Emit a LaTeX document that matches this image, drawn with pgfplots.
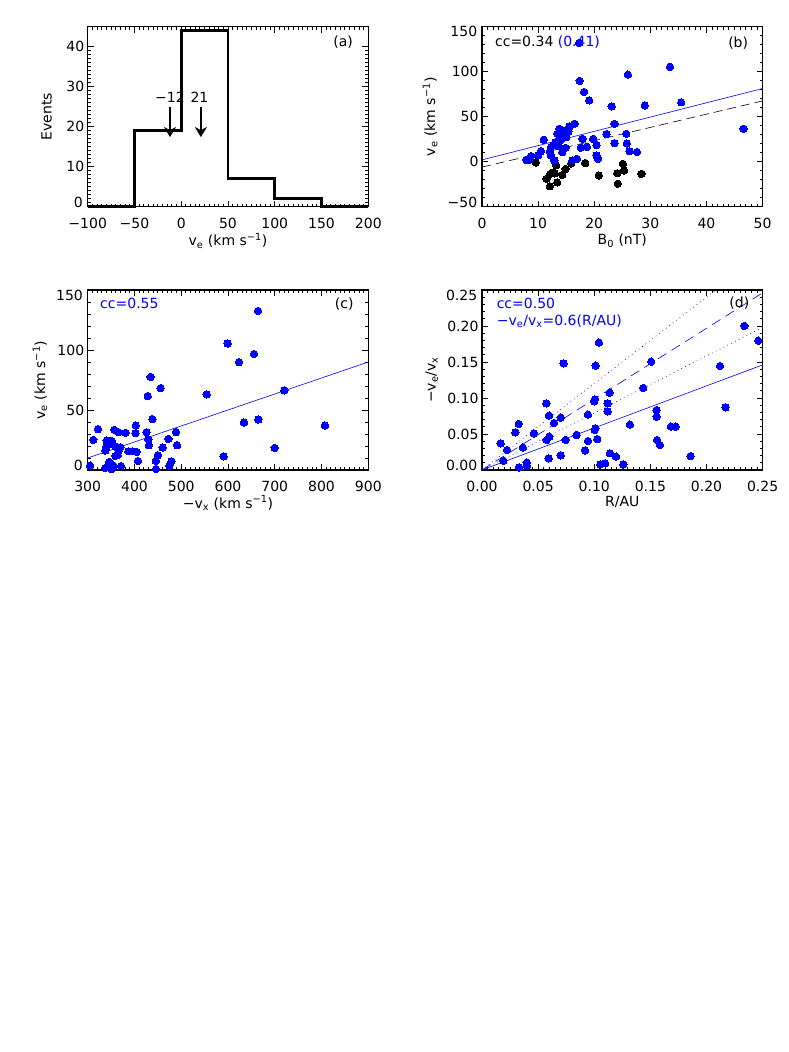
\documentclass[border=0pt]{standalone}
\usepackage{fontspec}
\setmainfont{DejaVu Sans}
\usepackage{pgfplots}
\pgfplotsset{compat=1.18}
\usetikzlibrary{arrows.meta}
\definecolor{pblue}{RGB}{0,0,255}
\newcommand{\fs}{\fontsize{14}{16}\selectfont}
\pgfplotsset{
  idl/.style={
    scale only axis, width=280.6pt, height=180pt,
    anchor=south west, clip=false,
    /pgf/number format/assume math mode=true,
    axis line style={line width=1.1pt},
    tick style={line width=0.9pt, black},
    major tick length=6pt, minor tick length=3pt,
    tick align=inside,
    tick label style={font=\fs},
    label style={font=\fs},
    xticklabel style={yshift=-7.5pt},
  },
  bdot/.style={only marks, mark=*, mark size=3.7pt, color=pblue, mark options={fill=pblue, draw=pblue, line width=0pt}},
  kdot/.style={only marks, mark=*, mark size=3.7pt, color=black, mark options={fill=black, draw=black, line width=0pt}},
}
\begin{document}
\begin{tikzpicture}
\path[use as bounding box] (0,0) rectangle (789pt,1052pt);
% ---------------- (a)
\begin{axis}[idl, at={(87.7pt,845.3pt)},
  xmin=-100, xmax=200, ymin=0, ymax=45,
  xtick={-100,-50,0,50,100,150,200},
  xticklabels={−100,−50,0,50,100,150,200},
  ytick={0,10,20,30,40}, yticklabels={,10,20,30,40},
  minor x tick num=9, minor y tick num=9,
  xlabel={v\textsubscript{e} (km s\textsuperscript{−1})},
  ylabel={Events},
  xlabel style={at={(axis description cs:0.5,-0.19)}, anchor=center},
  ylabel style={at={(axis description cs:-0.146,0.5)}, anchor=center},
]
\addplot[const plot, black, line width=2.6pt] coordinates {(-100,0) (-50,19) (0,44) (50,7) (100,2) (150,0) (200,0)};
\draw[line width=1.9pt, -{Stealth[length=10pt,width=12pt,inset=3pt]}] (axis cs:-12,25) -- (axis cs:-12,17.4);
\draw[line width=1.9pt, -{Stealth[length=10pt,width=12pt,inset=3pt]}] (axis cs:21,25) -- (axis cs:21,17.4);
\node[font=\fs, inner sep=0pt] at (axis cs:-12,27.4) {−12};
\node[font=\fs, inner sep=0pt] at (axis cs:19.5,27.4) {21};
\node[font=\fs, inner sep=0pt] at (rel axis cs:0.91,0.917) {(a)};
\node[font=\fs, anchor=east, inner sep=0pt, xshift=-4.6pt, yshift=4.5pt] at (rel axis cs:0,0) {0};
\end{axis}
% ---------------- (b)
\begin{axis}[idl, at={(482pt,845.3pt)},
  xmin=0, xmax=50, ymin=-50, ymax=150,
  xtick={0,10,20,30,40,50},
  xticklabels={0,10,20,30,40,50},
  ytick={-50,0,50,100,150}, yticklabels={,0,50,100,},
  minor x tick num=9, minor y tick num=4,
  xlabel={B\textsubscript{0} (nT)},
  ylabel={v\textsubscript{e} (km s\textsuperscript{−1})},
  xlabel style={at={(axis description cs:0.5,-0.19)}, anchor=center},
  ylabel style={at={(axis description cs:-0.185,0.5)}, anchor=center},
]
\addplot[pblue, line width=0.6pt] coordinates {(0,2) (50,81.3)};
\addplot[black, line width=0.6pt, dash pattern=on 9pt off 5pt] coordinates {(0,-6) (50,67.5)};
\addplot[kdot] coordinates {
(9.6,-1) (11.5,-19) (12.2,-13.6) (12.7,-12) (13.2,-3.9) (12.1,-27.3) (13.4,-22.9)
(14.3,-14.7) (14.9,-8) (15.9,-2) (18.4,-1.5) (20.8,-15.4) (24.1,-12.8) (24.2,-24.5)
(25.1,-2.4) (25.3,-9.8) (28.4,-13.6) (12.9,-13)
};
\addplot[bdot] coordinates {
(17.3,132) (17.4,89.8) (18.2,77.5) (19.1,68.2) (26.0,96.7) (33.5,105.4) (35.5,66)
(46.6,36.6) (29.0,62.5) (23.1,61.5) (23.6,42) (22.2,30.7) (19.8,25.3) (20.4,18.5)
(20.4,6.9) (20.7,3.2) (23.6,20.6) (25.7,31) (25.8,20.2) (26.3,11.7) (27.6,10.8)
(17.9,25.5) (17.6,15.5) (18.7,16.5) (16.5,42.2) (15.6,39.2) (14.9,34.8) (13.8,36.6)
(13.4,31) (14.5,33) (15.4,33.5) (15.0,27.3) (14.2,25.5) (13.1,21.8) (13.9,23.6)
(12.6,18) (12.3,16.2) (12.1,11.4) (11.0,24.4) (10.5,11.7) (10.0,7.3) (8.7,6.1)
(8.3,2) (7.9,2) (12.3,6.9) (12.9,1.3) (16.9,3.2) (16.1,1.5) (14.3,10.6) (14.9,15.4)
(13.6,18)
};
\node[font=\fs, anchor=west, inner sep=0pt] at (rel axis cs:0.046,0.917) {cc=0.34 \textcolor{pblue}{(0.41)}};
\node[font=\fs, inner sep=0pt] at (rel axis cs:0.913,0.911) {(b)};
\node[font=\fs, anchor=east, inner sep=0pt, xshift=-4.6pt, yshift=4.5pt] at (rel axis cs:0,0) {−50};
\node[font=\fs, anchor=east, inner sep=0pt, xshift=-4.6pt, yshift=-5pt] at (rel axis cs:0,1) {150};
\end{axis}
% ---------------- (c)
\begin{axis}[idl, at={(87.7pt,582pt)},
  xmin=300, xmax=900, ymin=0, ymax=150,
  xtick={300,400,500,600,700,800,900},
  xticklabels={300,400,500,600,700,800,900},
  ytick={0,50,100,150}, yticklabels={,50,100,},
  minor x tick num=9, minor y tick num=4,
  xlabel={−v\textsubscript{x} (km s\textsuperscript{−1})},
  ylabel={v\textsubscript{e} (km s\textsuperscript{−1})},
  xlabel style={at={(axis description cs:0.5,-0.183)}, anchor=center},
  ylabel style={at={(axis description cs:-0.17,0.5)}, anchor=center},
]
\addplot[pblue, line width=0.6pt] coordinates {(300,10) (900,90)};
\addplot[bdot] coordinates {
(664,132.5) (599,105.4) (623.5,89.8) (655.6,96.7) (554.4,63) (720.4,66.4) (634.2,39.6)
(664.9,42.1) (807.4,37.1) (699.8,18.4) (590.7,11.4) (434.7,77.5) (428.3,61.6) (456,68.3)
(438.2,42.4) (322,34) (312,25.1) (305,3.6) (357,33.5) (365.6,31.5) (381,31) (403,37.1)
(402,30.7) (426,31.5) (429.7,25.6) (431,20.6) (488.8,31.5) (491,20.6) (472.5,25.9)
(460.3,18.7) (450,12.3) (445.5,7.5) (446,0.8) (478.8,7.2) (474.5,3.6) (387,15.6)
(396.2,15.6) (404.8,15) (407.6,7.5) (369.8,19) (366,16.2) (364,12.3) (359,11.7)
(347.7,21.7) (351.3,24.3) (358.4,19.8) (346,6.7) (354.9,3.6) (337.8,1.7) (350.6,0.8)
(371.3,3.3) (339,18.7) (337.8,16.2) (340.6,24.5)
};
\node[font=\fs, anchor=west, inner sep=0pt, text=pblue] at (rel axis cs:0.044,0.926) {cc=0.55};
\node[font=\fs, inner sep=0pt] at (rel axis cs:0.914,0.922) {(c)};
\node[font=\fs, anchor=east, inner sep=0pt, xshift=-4.6pt, yshift=4.5pt] at (rel axis cs:0,0) {0};
\node[font=\fs, anchor=east, inner sep=0pt, xshift=-4.6pt, yshift=-5pt] at (rel axis cs:0,1) {150};
\end{axis}
% ---------------- (d)
\begin{axis}[idl, at={(482pt,582pt)},
  xmin=0, xmax=0.25, ymin=0, ymax=0.25,
  xtick={0,0.05,0.10,0.15,0.20,0.25},
  xticklabels={0.00,0.05,0.10,0.15,0.20,0.25},
  ytick={0,0.05,0.10,0.15,0.20,0.25},
  yticklabels={,0.05,0.10,0.15,0.20,},
  minor x tick num=9, minor y tick num=4,
  xlabel={R/AU},
  ylabel={−v\textsubscript{e}/v\textsubscript{x}},
  xlabel style={at={(axis description cs:0.5,-0.178)}, anchor=center},
  ylabel style={at={(axis description cs:-0.179,0.5)}, anchor=center},
]
\addplot[pblue, line width=0.6pt] coordinates {(0,0) (0.25,0.146)};
\addplot[pblue, line width=0.6pt, dash pattern=on 10pt off 6pt] coordinates {(0,0) (0.25,0.246)};
\addplot[pblue, line width=0.6pt, dash pattern=on 0.8pt off 3.5pt] coordinates {(0,0) (0.25,0.198)};
\addplot[pblue, line width=0.6pt, dash pattern=on 0.8pt off 3.5pt] coordinates {(0,0) (0.2083,0.25)};
\addplot[bdot] coordinates {
(0.2337,0.2000) (0.2461,0.1796) (0.212,0.1445) (0.217,0.087) (0.1042,0.1769)
(0.1012,0.1449) (0.0727,0.1481) (0.1508,0.1505) (0.1437,0.1139) (0.1137,0.1074)
(0.1119,0.0926) (0.1119,0.0815) (0.0998,0.0954) (0.1006,0.0981) (0.1004,0.0556)
(0.1010,0.0580) (0.1027,0.043) (0.1318,0.063) (0.1556,0.0833) (0.1556,0.074)
(0.156,0.0417) (0.1585,0.0347) (0.1683,0.0602) (0.1725,0.0602) (0.1859,0.0194)
(0.0573,0.0926) (0.0597,0.0755) (0.0641,0.0653) (0.0701,0.0727) (0.0576,0.0417)
(0.06,0.0463) (0.0594,0.0162) (0.0701,0.0204) (0.0745,0.0417) (0.0843,0.0486)
(0.0918,0.0273) (0.0944,0.0403) (0.0944,0.0769) (0.1054,0.0079) (0.1096,0.0093)
(0.114,0.0232) (0.1194,0.0185) (0.1259,0.0079) (0.0327,0.0639) (0.0297,0.0523)
(0.0463,0.0509) (0.0365,0.031) (0.0223,0.0278) (0.0166,0.037) (0.019,0.013)
(0.033,0.0037) (0.0398,0.0102) (0.0401,0.0056)
};
\node[font=\fs, anchor=west, inner sep=0pt, text=pblue] at (rel axis cs:0.052,0.926) {cc=0.50};
\node[font=\fs, anchor=west, inner sep=0pt, text=pblue] at (rel axis cs:0.052,0.824) {−v\textsubscript{e}/v\textsubscript{x}=0.6(R/AU)};
\node[font=\fs, inner sep=0pt] at (rel axis cs:0.917,0.926) {(d)};
\node[font=\fs, anchor=east, inner sep=0pt, xshift=-4.6pt, yshift=4.5pt] at (rel axis cs:0,0) {0.00};
\node[font=\fs, anchor=east, inner sep=0pt, xshift=-4.6pt, yshift=-5pt] at (rel axis cs:0,1) {0.25};
\end{axis}
\end{tikzpicture}
\end{document}
